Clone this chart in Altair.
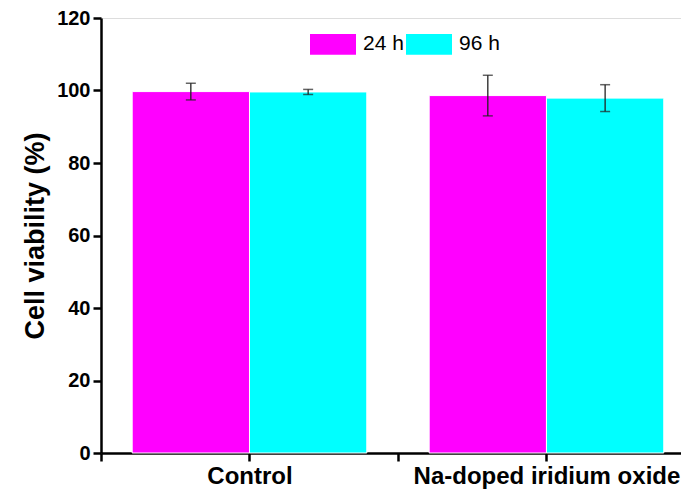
import altair as alt
import pandas as pd

categories = ["Control", "Na-doped iridium oxide"]
series = ["24 h", "96 h"]
mean_24h = [99.7, 98.6]
mean_96h = [99.6, 97.9]
err_24h = [2.3, 5.6]
err_96h = [0.7, 3.7]
colors = ["#FF00FF", "#00FFFF"]

BAR_W = 0.79  # bar width in category units

rows = []
for i, cat in enumerate(categories):
    center = i * 2 + 1
    for j, (s, m, e) in enumerate(zip(series, [mean_24h, mean_96h], [err_24h, err_96h])):
        x0 = center - BAR_W if j == 0 else center
        x1 = center if j == 0 else center + BAR_W
        rows.append({
            "category": cat, "series": s, "value": m[i],
            "x0": x0, "x1": x1, "xm": (x0 + x1) / 2,
            "lo": m[i] - e[i], "hi": m[i] + e[i],
        })
df = pd.DataFrame(rows)

FONT = "Liberation Sans"

label_expr = " : ".join(
    [f"datum.value == {i * 2 + 1} ? '{c}'" for i, c in enumerate(categories)]
) + " : ''"

xscale = alt.Scale(domain=[0, 3.906], nice=False, zero=False)
yscale = alt.Scale(domain=[0, 120], nice=False)

x_axis = alt.Axis(
    values=[0, 1, 2, 3], labelExpr=label_expr, title=None, grid=False,
    domainColor="black", domainWidth=2.5, tickColor="black", tickWidth=2.5,
    tickSize=8, labelPadding=3, labelFont=FONT, labelFontSize=24,
    labelFontWeight="bold", labelColor="black", labelFlush=False,
    labelOverlap=False, labelLimit=0,
)
y_axis = alt.Axis(
    values=list(range(0, 121, 10)),
    labelExpr="datum.value % 20 == 0 ? datum.label : ''",
    title="Cell viability (%)", grid=False,
    domainColor="black", domainWidth=2.5, tickColor="black", tickWidth=2.5,
    tickSize={"condition": {"test": "datum.value % 20 == 0", "value": 8}, "value": 4},
    labelPadding=3, labelFont=FONT, labelFontSize=20, labelFontWeight="bold",
    labelColor="black", titleFont=FONT, titleFontSize=27, titleFontWeight="bold",
    titleColor="black", titleAngle=-90, titleX=-58, titleY=217.5,
    titleBaseline="alphabetic", titleAlign="center",
)

bars = alt.Chart(df).mark_bar(stroke="white", strokeWidth=1).encode(
    x=alt.X("x0:Q", scale=xscale, axis=x_axis),
    x2="x1:Q",
    y=alt.Y("value:Q", scale=yscale, axis=y_axis),
    y2=alt.datum(0),
    color=alt.Color(
        "series:N",
        scale=alt.Scale(domain=series, range=colors),
        legend=alt.Legend(
            title=None, orient="none", legendX=209, legendY=3,
            direction="horizontal",
            symbolType="M-1,-0.45H1V0.45H-1Z", symbolSize=2116,
            symbolStrokeWidth=0, symbolOpacity=1,
            labelFont=FONT, labelFontSize=21, labelColor="black",
            labelOffset=7, columnPadding=2, padding=0,
        ),
    ),
)

err_rule = alt.Chart(df).mark_rule(color="#222222", strokeWidth=1.3).encode(
    x=alt.X("xm:Q", scale=xscale), y=alt.Y("lo:Q", scale=yscale), y2="hi:Q"
)
cap_lo = alt.Chart(df).mark_tick(color="#222222", thickness=1.5, size=10, orient="horizontal").encode(
    x=alt.X("xm:Q", scale=xscale), y=alt.Y("lo:Q", scale=yscale)
)
cap_hi = alt.Chart(df).mark_tick(color="#222222", thickness=1.5, size=10, orient="horizontal").encode(
    x=alt.X("xm:Q", scale=xscale), y=alt.Y("hi:Q", scale=yscale)
)

chart = alt.layer(bars, err_rule, cap_lo, cap_hi).properties(
    width=580, height=435,
    autosize=alt.AutoSizeParams(type="none"),
    padding={"left": 93, "top": 10, "right": 0, "bottom": 37},
).configure_view(stroke=None).configure(background="white")

chart.save("out.html", embed_options={"renderer": "svg", "actions": False})
